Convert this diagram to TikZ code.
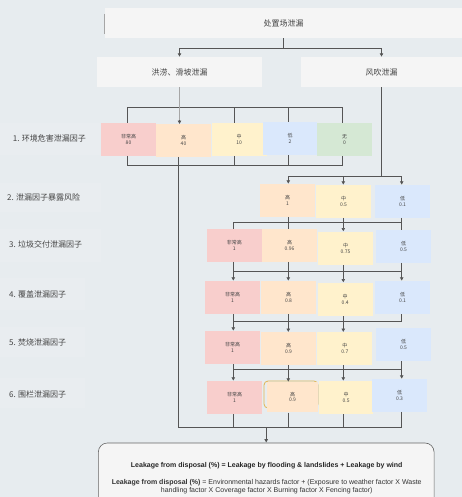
\documentclass[tikz,border=0pt]{standalone}
\usepackage{fontspec}
\setmainfont{Liberation Sans}
\newfontfamily\cjk{Noto Sans CJK SC}
\usetikzlibrary{arrows.meta,calc}
\definecolor{bgc}{RGB}{231,236,239}
\definecolor{boxg}{HTML}{F5F5F5}
\definecolor{cred}{HTML}{F8CECC}
\definecolor{corg}{HTML}{FFE6CC}
\definecolor{cyel}{HTML}{FFF2CC}
\definecolor{cblu}{HTML}{DAE8FC}
\definecolor{cgrn}{HTML}{D5E8D4}
\definecolor{lnc}{HTML}{555555}
\definecolor{txc}{HTML}{444444}
\definecolor{amber}{HTML}{E0B552}
\tikzset{
 cell/.style={draw=none, inner sep=0pt, align=center, font=\cjk\fontsize{5}{5.5}\selectfont, text=txc},
 hdr/.style={draw=none, fill=boxg, inner sep=0pt, font=\cjk\fontsize{8}{9}\selectfont, text=txc},
 lbl/.style={anchor=west, inner sep=0pt, font=\cjk\fontsize{8}{9}\selectfont, text=txc},
 lblbg/.style={fill=white, fill opacity=0.1, draw=none},
 conn/.style={draw=lnc, line width=0.8pt},
 arr/.style={conn, -{Latex[length=3.5pt,width=4pt]}},
}
\newcommand\cellbox[7]{\path ({(#3+#5)/2},{(#4+#6)/2}) node[cell,fill=#2,minimum width={(#5-#3)*1pt},minimum height={(#6-#4)*1pt}] (#1) {#7};}
\begin{document}
\begin{tikzpicture}[x=1pt,y=-1pt]
\useasboundingbox (0,0) rectangle (462,497);
\fill[bgc] (0,0) rectangle (462,497);
% label backgrounds
\fill[lblbg] (0,123) rectangle (100,155);
\fill[lblbg] (0,183) rectangle (101,212);
\fill[lblbg] (0,229) rectangle (101,262);
\fill[lblbg] (0,278) rectangle (85,310);
\fill[lblbg] (0,327) rectangle (85,357);
\fill[lblbg] (0,378) rectangle (85,408);
% labels
\node[lbl] (l1) at (12.7,138.7) {1. 环境危害泄漏因子};
\node[lbl] (l2) at (7,197.7) {2. 泄漏因子暴露风险};
\node[lbl] (l3) at (9,244.3) {3. 垃圾交付泄漏因子};
\node[lbl] (l4) at (9,294.3) {4. 覆盖泄漏因子};
\node[lbl] (l5) at (9,342.7) {5. 焚烧泄漏因子};
\node[lbl] (l6) at (9,394.3) {6. 围栏泄漏因子};
% header boxes
\node[hdr, minimum width=357pt, minimum height=30pt] (top) at (283.5,23) {处置场泄漏};
\draw[gray!70, line width=0.8pt] (104,14) -- (104,34);
\node[hdr, minimum width=165pt, minimum height=30pt] (flood) at (179.5,72) {洪涝、滑坡泄漏};
\node[hdr, minimum width=161pt, minimum height=30pt] (wind) at (381.5,72) {风吹泄漏};
\draw[conn] (top.south) -- ++(0,10) coordinate (tj);
\draw[arr] (tj) -| (flood.north);
\draw[arr] (tj) -| (wind.north);
% column coordinates
\coordinate (cA) at (233.3,0);
\coordinate (cB) at (288.3,0);
\coordinate (cC) at (343.3,0);
\coordinate (cD) at (401.7,0);
% row 1
\cellbox{r1a}{cred}{101}{123}{156}{155.7}{非常高\\80}
\cellbox{r1b}{corg}{156}{124.3}{211}{156.7}{高\\40}
\cellbox{r1c}{cyel}{211.7}{123}{266.7}{155.7}{中\\10}
\cellbox{r1d}{cblu}{263.3}{122}{316.7}{155}{低\\2}
\cellbox{r1e}{cgrn}{317.3}{123}{371.7}{156}{无\\0}
\coordinate (k1) at (127,107);
\coordinate (k2) at (234,107);
\coordinate (k3) at (288,107);
\coordinate (k4) at (342,107);
\coordinate (j1) at (127,165);
\coordinate (j2) at (234,165);
\coordinate (j3) at (288,165);
\coordinate (j4) at (342,165);
\draw[conn] (r1a.north -| k1) -- (k1) -- (k4) -- (r1e.north -| k4);
\draw[conn] (r1c.north -| k2) -- (k2);
\draw[conn] (r1d.north -| k3) -- (k3);
\draw[conn] (r1a.south -| j1) -- (j1) -- (j4) -- (r1e.south -| j4);
\draw[conn] (r1c.south -| j2) -- (j2);
\draw[conn] (r1d.south -| j3) -- (j3);
\draw[gray!70, line width=1.8pt] (flood.south) -- ([yshift=3pt]flood.south |- r1b.north);
\draw[arr] ([yshift=4pt]flood.south |- r1b.north) -- (flood.south |- r1b.north);
% row 2
\cellbox{r2a}{corg}{260}{184}{315}{216.7}{高\\1}
\cellbox{r2b}{cyel}{316}{185}{371}{217.7}{中\\0.5}
\cellbox{r2c}{cblu}{375}{185}{430}{217.7}{低\\0.1}
\coordinate (b0) at (0,176.7);
\draw[conn] (wind.south) -- (wind.south |- b0);
\draw[conn] (cB |- b0) -- (cD |- b0);
\draw[arr] (cB |- b0) -- (r2a.north -| cB);
\draw[arr] (cC |- b0) -- (r2b.north -| cC);
\draw[arr] (cD |- b0) -- (r2c.north -| cD);
% row 3
\cellbox{r3a}{cred}{207}{229.3}{261.7}{261.7}{非常高\\1}
\cellbox{r3b}{corg}{262.3}{229.3}{316.7}{261.7}{高\\0.96}
\cellbox{r3c}{cyel}{318.3}{231.7}{372.7}{265}{中\\0.75}
\cellbox{r3d}{cblu}{376}{230}{431}{262.7}{低\\0.5}
\coordinate (b1) at (0,222.7);
\draw[conn] (cA |- b1) -- (cD |- b1);
\draw[conn] (r2a.south -| cB) -- (r3b.north -| cB);
\draw[conn] (r2c.south -| cD) -- (r3d.north -| cD);
\draw[arr] (r2b.south -| cC) -- (r3c.north -| cC);
\draw[conn] (cA |- b1) -- (r3a.north -| cA);
% row 4
\cellbox{r4a}{cred}{205}{281}{260}{314}{非常高\\1}
\cellbox{r4b}{corg}{261}{281}{316}{314}{高\\0.8}
\cellbox{r4c}{cyel}{317.7}{282.7}{372.7}{316}{中\\0.4}
\cellbox{r4d}{cblu}{375}{281}{430}{314}{低\\0.1}
\coordinate (b2) at (0,271.7);
\draw[conn] (cA |- b2) -- (cD |- b2);
\draw[conn] (r3a.south -| cA) -- (cA |- b2);
\draw[conn] (r3b.south -| cB) -- (cB |- b2);
\draw[conn] (r3c.south -| cC) -- (cC |- b2);
\draw[conn] (r3d.south -| cD) -- (cD |- b2);
\draw[arr] (cA |- b2) -- (r4a.north -| cA);
\draw[arr] (cB |- b2) -- (r4b.north -| cB);
\draw[arr] (cC |- b2) -- (r4c.north -| cC);
\draw[arr] (cD |- b2) -- (r4d.north -| cD);
% row 5
\cellbox{r5a}{cred}{205}{331}{260}{364}{非常高\\1}
\cellbox{r5b}{corg}{261}{332.3}{316}{365}{高\\0.9}
\cellbox{r5c}{cyel}{317.3}{332.3}{372.3}{365}{中\\0.7}
\cellbox{r5d}{cblu}{376}{328.3}{431}{361}{低\\0.5}
\coordinate (b3) at (0,321);
\draw[conn] (cA |- b3) -- (cD |- b3);
\draw[conn] (r4a.south -| cA) -- (cA |- b3);
\draw[conn] (r4b.south -| cB) -- (cB |- b3);
\draw[conn] (r4c.south -| cC) -- (cC |- b3);
\draw[conn] (r4d.south -| cD) -- (cD |- b3);
\draw[arr] (cA |- b3) -- (r5a.north -| cA);
\draw[arr] (cB |- b3) -- (r5b.north -| cB);
\draw[arr] (cC |- b3) -- (r5c.north -| cC);
% row 6
\draw[amber, line width=0.8pt, rounded corners=4pt] (264,381) rectangle (318,408);
\cellbox{r6a}{cred}{207}{381}{262}{414}{非常高\\1}
\cellbox{r6b}{corg}{266.7}{382}{318.3}{412.3}{高\\0.9}
\cellbox{r6c}{cyel}{319}{381}{373.3}{414}{中\\0.5}
\cellbox{r6d}{cblu}{372.3}{379}{426.7}{411.7}{低\\0.3}
\coordinate (b4) at (0,369.7);
\draw[conn] (cA |- b4) -- (cD |- b4);
\draw[conn] (r5a.south -| cA) -- (cA |- b4);
\draw[conn] (r5b.south -| cB) -- (cB |- b4);
\draw[conn] (r5c.south -| cC) -- (cC |- b4);
\draw[conn] (r5d.south -| cD) -- (cD |- b4);
\draw[arr] (cA |- b4) -- (r6a.north -| cA);
\draw[arr] (cB |- b4) -- (r6b.north -| cB);
\draw[arr] (cC |- b4) -- (r6c.north -| cC);
\draw[arr] (cD |- b4) -- (r6d.north -| cD);
% bottom
\coordinate (L) at (178.7,427.3);
\draw[conn] (r1b.south -| L) -- (L) -- (cD |- L);
\draw[conn] (r6a.south -| cA) -- (cA |- L);
\draw[conn] (r6b.south -| cB) -- (cB |- L);
\draw[conn] (r6c.south -| cC) -- (cC |- L);
\draw[conn] (r6d.south -| cD) -- (cD |- L);
\node[draw=gray!80!black, fill=boxg, rounded corners=9pt, line width=0.6pt, minimum width=335.7pt, minimum height=100pt, inner sep=0pt] (result) at (266.2,493) {};
\draw[arr] (result.north |- L) -- (result.north);
\node[font=\bfseries\fontsize{7}{8}\selectfont, text=black!85] (t1) at (266.7,465.7) {Leakage from disposal (\%) = Leakage by flooding \& landslides + Leakage by wind};
\node[align=center, font=\fontsize{7}{8}\selectfont, text=black!80] (t2) at (266.7,486.7) {\textbf{Leakage from disposal (\%)} = Environmental hazards factor + (Exposure to weather factor X Waste\\handling factor X Coverage factor X Burning factor X Fencing factor)};
\end{tikzpicture}
\end{document}
